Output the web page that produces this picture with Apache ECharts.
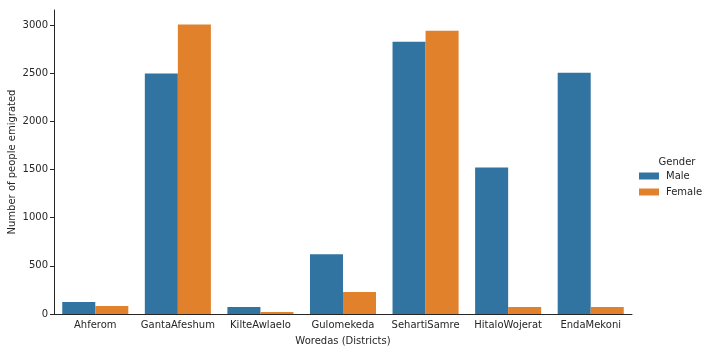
<!DOCTYPE html>
<html>
<head>
<meta charset="utf-8">
<script src="https://cdn.jsdelivr.net/npm/echarts@6/dist/echarts.min.js"></script>
<style>
  html, body { margin: 0; padding: 0; background: #fff; }
</style>
</head>
<body>
<div id="chart" style="width: 712px; height: 352px;"></div>
<script>
var districts = ["Ahferom", "GantaAfeshum", "KilteAwlaelo", "Gulomekeda", "SehartiSamre", "HitaloWojerat", "EndaMekoni"];
var maleValues = [124, 2495, 72, 620, 2825, 1520, 2505];
var femaleValues = [83, 3005, 20, 228, 2940, 72, 72];
var yTicks = [0, 500, 1000, 1500, 2000, 2500, 3000];

var textColor = "#262626";
var font = "DejaVu Sans";

var chart = echarts.init(document.getElementById("chart"));
chart.setOption({
  animation: false,
  title: {
    text: "Gender",
    left: 672,
    top: 152,
    textAlign: "center",
    textStyle: { fontFamily: font, fontSize: 10, fontWeight: "normal", color: textColor }
  },
  legend: {
    orient: "vertical",
    left: 634,
    top: 166,
    itemWidth: 20,
    itemHeight: 7,
    itemGap: 6,
    icon: "rect",
    textStyle: { fontFamily: font, fontSize: 10, color: textColor, padding: [0, 0, 0, 2] },
    data: ["Male", "Female"]
  },
  grid: { left: 54, right: 80, top: 10, bottom: 38, outerBoundsMode: "none", containLabel: false },
  xAxis: {
    type: "category",
    data: districts,
    name: "Woredas (Districts)",
    nameLocation: "middle",
    nameGap: 22,
    nameTextStyle: { fontFamily: font, fontSize: 10, color: textColor },
    axisLine: { lineStyle: { color: textColor, width: 1 } },
    axisTick: { alignWithLabel: true, length: 4, lineStyle: { color: textColor } },
    axisLabel: { interval: 0, fontFamily: font, fontSize: 10, color: textColor, margin: 6 }
  },
  yAxis: {
    type: "value",
    min: 0,
    max: 3155,
    interval: 500,
    name: "Number of people emigrated",
    nameLocation: "middle",
    nameGap: 37,
    nameMoveOverlap: false,
    nameTextStyle: { fontFamily: font, fontSize: 10, color: textColor },
    axisLine: { show: true, lineStyle: { color: textColor, width: 1 } },
    axisTick: { show: true, length: 4, lineStyle: { color: textColor } },
    axisLabel: {
      fontFamily: font, fontSize: 10, color: textColor, margin: 6,
      showMaxLabel: false,
      formatter: function (v) { return yTicks.indexOf(v) >= 0 ? String(v) : ""; }
    },
    splitLine: { show: false }
  },
  series: [
    {
      name: "Male",
      type: "bar",
      data: maleValues,
      itemStyle: { color: "#3274a1" },
      barGap: "0%",
      barCategoryGap: "20%"
    },
    {
      name: "Female",
      type: "bar",
      data: femaleValues,
      itemStyle: { color: "#e1812c" },
      barGap: "0%",
      barCategoryGap: "20%"
    }
  ]
});
</script>
</body>
</html>
